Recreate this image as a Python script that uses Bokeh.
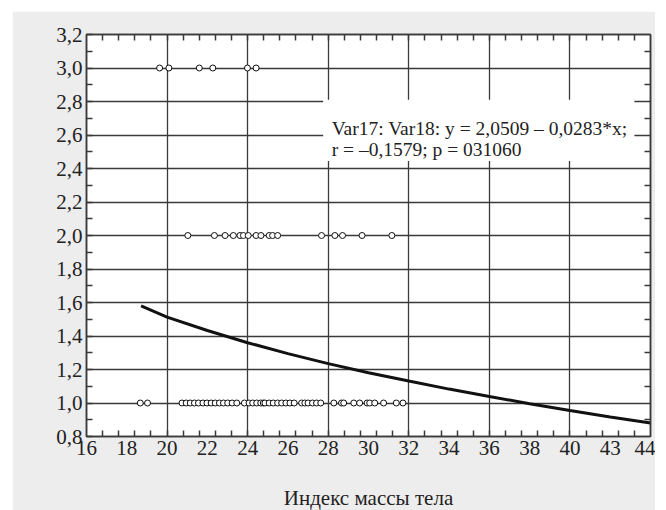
from bokeh.plotting import figure
from bokeh.models import FixedTicker, LinearAxis, Label, BoxAnnotation, Range1d
from bokeh.embed import file_html
from bokeh.resources import INLINE

# ---- data ----
bmi_score3 = [19.63, 20.09, 21.6, 22.27, 23.99, 24.42]
bmi_score2 = [21.03, 22.35, 22.88, 23.29, 23.62, 23.79, 24.03, 24.42, 24.66, 25.07,
              25.24, 25.49, 27.67, 28.33, 28.71, 29.68, 31.16]
bmi_score1 = [18.67, 19.03, 20.74, 20.95, 21.15, 21.36, 21.56, 21.78, 21.98, 22.19,
              22.39, 22.60, 22.80, 23.01, 23.23, 23.46, 23.84, 24.07, 24.25, 24.45,
              24.65, 24.78, 24.86, 25.07, 25.27, 25.49, 25.69, 25.90, 26.10, 26.31,
              26.68, 26.84, 27.00, 27.22, 27.42, 27.63, 28.28, 28.66, 28.77, 29.27,
              29.56, 29.93, 30.06, 30.31, 30.75, 31.38, 31.71]
score_levels = [3.0, 2.0, 1.0]

curve_x = [18.71, 20, 22, 24, 26, 28, 30, 32, 34, 36, 38, 40, 42, 44]
curve_y = [1.580, 1.513, 1.433, 1.360, 1.295, 1.235, 1.181, 1.131, 1.083, 1.039,
           0.996, 0.955, 0.917, 0.880]

x_ticks = [16, 18, 20, 22, 24, 26, 28, 30, 32, 34, 36, 38, 40, 42, 44]
x_tick_labels = ["16", "18", "20", "22", "24", "26", "28", "30", "32", "34", "36",
                 "38", "40", "43", "44"]
y_ticks = [0.8, 1.0, 1.2, 1.4, 1.6, 1.8, 2.0, 2.2, 2.4, 2.6, 2.8, 3.0, 3.2]
y_tick_labels = ["0,8", "1,0", "1,2", "1,4", "1,6", "1,8", "2,0", "2,2", "2,4",
                 "2,6", "2,8", "3,0", "3,2"]
x_grid = [20, 24, 28, 32, 36, 40]
y_grid = [1.0, 1.2, 1.4, 1.6, 1.8, 2.0, 2.2, 2.4, 2.6, 2.8, 3.0]

eq_line1 = "Var17: Var18: y = 2,0509 \u2013 0,0283*x;"
eq_line2 = "r = \u20130,1579; p = 031060"
x_title = "Индекс массы тела"

FONT = "Liberation Serif"
GRID_C = "#3a3a3a"

p = figure(width=643, height=510, x_range=Range1d(16, 44), y_range=Range1d(0.8, 3.2),
           output_backend="svg", toolbar_location=None,
           min_border_left=74, min_border_right=5, min_border_top=23, min_border_bottom=85,
           background_fill_color="white", border_fill_color="#ededed",
           outline_line_color=GRID_C, outline_line_width=1.5,
           margin=(11, 0, -12, 12))

# minor tick positions
x_minor = [round(16 + 0.8 * k, 2) for k in range(1, 35)]
y_minor = [round(0.9 + 0.2 * k, 2) for k in range(12)]

xa = p.xaxis[0]
xa.ticker = FixedTicker(ticks=x_ticks, minor_ticks=x_minor)
xa.major_label_overrides = dict(zip(x_ticks, x_tick_labels))
xa.major_tick_in = 0
xa.major_tick_out = 0
xa.minor_tick_in = 6
xa.minor_tick_out = 0
xa.axis_label = x_title
xa.axis_label_standoff = 28
xa.axis_label_text_font = FONT
xa.axis_label_text_font_size = "21px"
xa.axis_label_text_font_style = "normal"
xa.axis_label_text_color = "#222222"

ya = p.yaxis[0]
ya.ticker = FixedTicker(ticks=y_ticks, minor_ticks=y_minor)
ya.major_label_overrides = dict(zip(y_ticks, y_tick_labels))
ya.major_tick_in = 6
ya.major_tick_out = 0
ya.minor_tick_in = 6
ya.minor_tick_out = 0

for ax in (xa, ya):
    ax.major_label_text_font = FONT
    ax.major_label_text_font_size = "21px"
    ax.major_label_text_color = "#222222"
    ax.major_label_standoff = 4
    ax.axis_line_color = GRID_C
    ax.axis_line_width = 1.5
    ax.major_tick_line_color = GRID_C
    ax.minor_tick_line_color = GRID_C
    ax.major_tick_line_width = 1.5
    ax.minor_tick_line_width = 1.5

top_ax = LinearAxis(ticker=FixedTicker(ticks=[], minor_ticks=x_minor),
                    major_tick_in=0, major_tick_out=0, minor_tick_in=6, minor_tick_out=0,
                    axis_line_color=GRID_C, axis_line_width=1.5, major_label_standoff=0,
                    minor_tick_line_color=GRID_C, minor_tick_line_width=1.5,
                    major_label_text_font_size="0px")
right_ax = LinearAxis(ticker=FixedTicker(ticks=[], minor_ticks=y_minor),
                      major_tick_in=0, major_tick_out=0, minor_tick_in=6, minor_tick_out=0,
                      axis_line_color=GRID_C, axis_line_width=1.5, major_label_standoff=0,
                      minor_tick_line_color=GRID_C, minor_tick_line_width=1.5,
                      major_label_text_font_size="0px")
p.add_layout(top_ax, "above")
p.add_layout(right_ax, "right")

p.xgrid.ticker = FixedTicker(ticks=x_grid)
p.ygrid.ticker = FixedTicker(ticks=y_grid)
p.grid.grid_line_color = GRID_C
p.grid.grid_line_width = 1.3
p.grid.grid_line_alpha = 1

# points
xs, ys = [], []
for lvl, arr in zip(score_levels, [bmi_score3, bmi_score2, bmi_score1]):
    xs.extend(arr)
    ys.extend([lvl] * len(arr))
p.scatter(xs, ys, marker="circle", size=6, fill_color="white", line_color="#111111",
          line_width=1)

# regression curve
p.line(curve_x, curve_y, line_color="#111111", line_width=3)

# equation box
p.add_layout(BoxAnnotation(left=27.75, right=43.2, top=2.81, bottom=2.445,
                           fill_color="white", fill_alpha=1, line_alpha=0))
p.add_layout(Label(x=28.17, y=2.639, text=eq_line1, text_font=FONT,
                   text_font_size="19.5px", text_color="#222222", text_baseline="alphabetic"))
p.add_layout(Label(x=28.17, y=2.516, text=eq_line2, text_font=FONT,
                   text_font_size="19.5px", text_color="#222222", text_baseline="alphabetic"))

open("out.html", "w").write(file_html(p, INLINE))
